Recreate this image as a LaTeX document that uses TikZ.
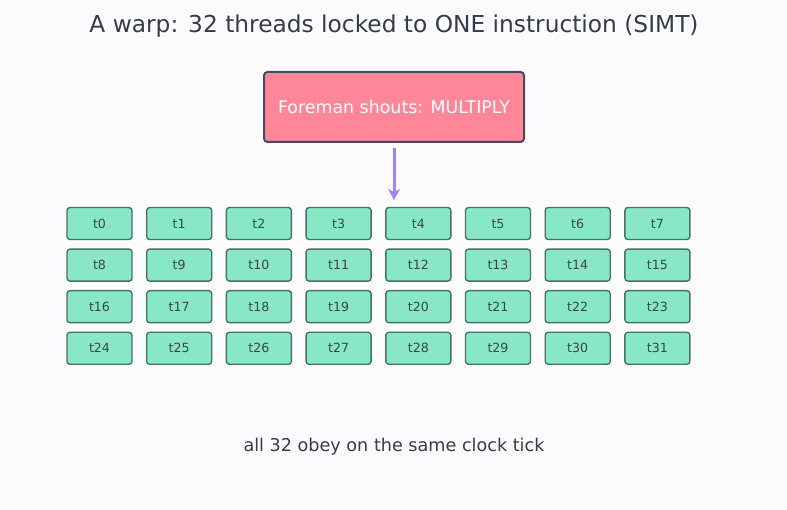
\documentclass[tikz,border=0pt]{standalone}
\usepackage{fontspec}
\setmainfont{DejaVu Sans}
\definecolor{bg}{HTML}{FBFBFE}
\definecolor{ink}{HTML}{343B4A}
\definecolor{pinkf}{HTML}{FF8599}
\definecolor{pinkd}{HTML}{4A4A5C}
\definecolor{mint}{HTML}{88E8C6}
\definecolor{mintd}{HTML}{4A706B}
\definecolor{arrowc}{HTML}{9C86F2}
\definecolor{tinkc}{HTML}{36474A}
\usetikzlibrary{arrows.meta}
\tikzset{
  foreman/.style={draw=pinkd, fill=pinkf, line width=2pt, rounded corners=3.5pt,
    minimum width=260pt, minimum height=70pt, text=white, font=\fontsize{17.4}{20}\selectfont, inner sep=0pt},
  thread/.style={draw=mintd, fill=mint, line width=1.4pt, rounded corners=3pt,
    minimum width=65pt, minimum height=32pt, text=tinkc, font=\fontsize{12.6}{14}\selectfont, inner sep=0pt},
  flow/.style={draw=arrowc, line width=3pt, -{Stealth[length=11pt,width=12pt,inset=3pt]}},
}
\begin{document}
\begin{tikzpicture}[x=1pt,y=-1pt]
\fill[bg] (0,0) rectangle (787,510);
\useasboundingbox (0,0) rectangle (787,510);
\node[text=ink, font=\fontsize{23.3}{27}\selectfont] (title) at (394,26.5) {A warp: 32 threads locked to ONE instruction (SIMT)};
\node[foreman] (fore) at (394,107) {Foreman shouts: MULTIPLY};
\foreach \r in {0,1,2,3}{
  \foreach \c in {0,...,7}{
    \pgfmathtruncatemacro{\n}{\r*8+\c}
    \node[thread] (t\n) at ({99.5+\c*79.7},{223.5+\r*41.6}) {t\n};
  }
}
\coordinate (tip) at (394,200);
\draw[flow] ([yshift=-5pt]fore.south) -- (tip);
\node[text=ink, font=\fontsize{17.6}{20}\selectfont] (caption) at (394,446.5) {all 32 obey on the same clock tick};
\end{tikzpicture}
\end{document}
